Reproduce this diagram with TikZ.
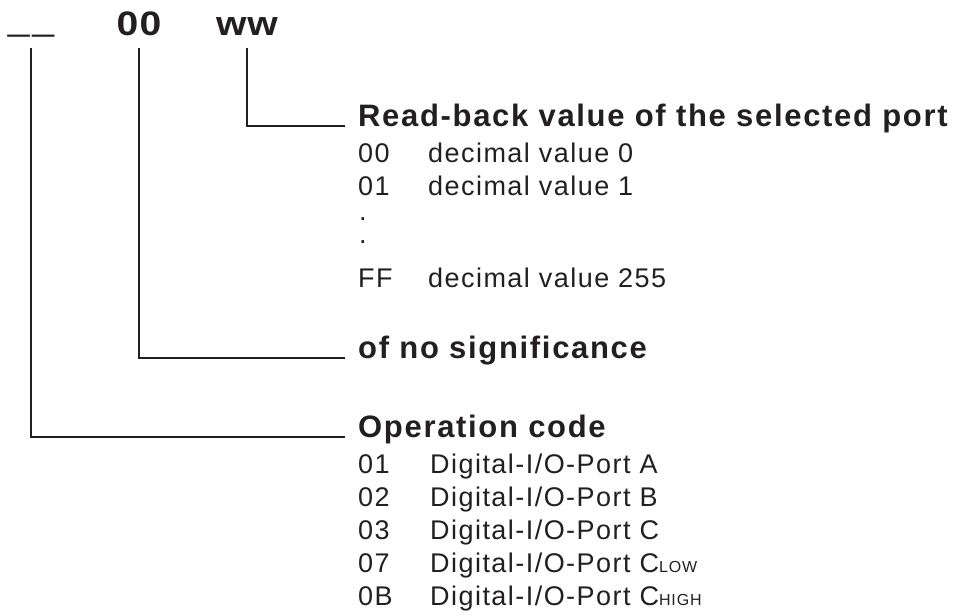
\documentclass[tikz,border=0pt]{standalone}
\usepackage{fontspec}
\setmainfont{Liberation Sans}[LetterSpace=5.4]
\newfontfamily\widefont{Liberation Sans}[FakeStretch=1.15]
\definecolor{ink}{RGB}{35,31,32}
\newcommand{\dioport}{Digital-I/O-Port}
\newcommand{\lowcap}[1]{{\fontsize{16}{16}\selectfont #1}}
\begin{document}
\begin{tikzpicture}[x=1pt,y=-1pt,
    every node/.style={text=ink},
    field/.style={font=\widefont\bfseries\fontsize{34}{34}\selectfont, inner sep=0pt, text depth=0pt, outer ysep=13pt, anchor=base},
    head/.style={font=\fontsize{31}{31}\selectfont\bfseries, inner xsep=13pt, inner ysep=0pt, anchor=base west},
    entry/.style={font=\fontsize{27}{27}\selectfont, inner sep=0pt, anchor=base west},
    lead/.style={draw=ink, line width=2.6pt}]
    \useasboundingbox (0,0) rectangle (954,616);

    % Kopfzeile: die drei Felder
    \node[field] (opf) at (31,35) {\raisebox{5pt}{\mdseries\_\kern3pt\_}};
    \node[field] (sigf) at (139,35) {0\kern1.5pt0};
    \node[field] (rbf) at (247,35) {w\kern1pt w};

    % Ueberschriften
    \node[head] (rbhead) at (345,126) {Read-back value of the selected port};
    \node[head] (sighead) at (345,358) {of no significance};
    \node[head] (ophead) at (345,437) {Operation code};

    % Verbindungslinien
    \draw[lead] (rbf.south) |- (rbhead.base west);
    \draw[lead] (sigf.south) |- (sighead.base west);
    \draw[lead] (opf.south) |- (ophead.base west);

    % Werte des Ports
    \foreach \row/\code/\txt in {162/00/decimal value 0, 195/01/decimal value 1, 287/FF/decimal value 255}
    {
        \node[entry] (rbc-\code) at (358,\row) {\code};
        \node[entry] (rbt-\code) at (428,\row) {\txt};
    }
    \node[entry] (dots) at (359,243) {.\llap{\raisebox{23pt}{.}}};

    % Operationscodes
    \foreach \row/\code/\txt in {473/01/\dioport{} A, 506/02/\dioport{} B, 539/03/\dioport{} C,
        572/07/\dioport{} C\lowcap{LOW}, 605/0B/\dioport{} C\lowcap{HIGH}}
    {
        \node[entry] (opc-\code) at (358,\row) {\code};
        \node[entry] (opt-\code) at (430,\row) {\txt};
    }
\end{tikzpicture}
\end{document}
